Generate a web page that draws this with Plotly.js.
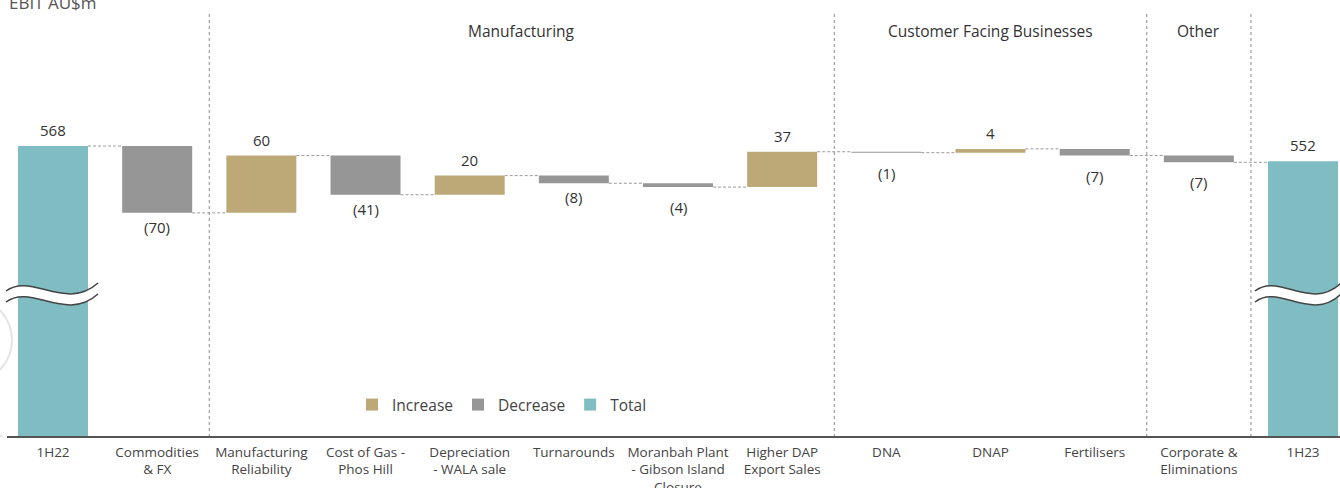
<!DOCTYPE html>
<html>
<head>
<meta charset="utf-8">
<script src="https://cdn.plot.ly/plotly-3.0.1.min.js"></script>
<style>
html,body{margin:0;padding:0;background:#fff;}
#chart{width:1340px;height:488px;}
</style>
</head>
<body>
<div id="chart"></div>
<script>
// ---- data ----
const categories = ['1H22','Commodities<br>& FX','Manufacturing<br>Reliability','Cost of Gas -<br>Phos Hill','Depreciation<br>- WALA sale','Turnarounds','Moranbah Plant<br>- Gibson Island<br>Closure','Higher DAP<br>Export Sales','DNA','DNAP','Fertilisers','Corporate &<br>Eliminations','1H23'];
const values = [568, -70, 60, -41, 20, -8, -4, 37, -1, 4, -7, -7, 552];
const measures = ['total','relative','relative','relative','relative','relative','relative','relative','relative','relative','relative','relative','total'];
const sections = ['Manufacturing','Customer Facing Businesses','Other'];
const sectionBounds = [[1.5,7.5],[7.5,10.5],[10.5,11.5]];
const dividers = [1.5, 7.5, 10.5, 11.5];
const legendNames = ['Increase','Decrease','Total'];

// ---- style ----
const COL_INC = '#bda978', COL_DEC = '#969696', COL_TOT = '#80bdc3';
const FONT = '"Open Sans", "Noto Sans", sans-serif';
const W = 1340, H = 488, B = 51, PH = H - B;
const XMIN = -0.509, XMAX = 12.355;
const YTOP = 720.9, YBOT = 263.3;
const BARW = 0.672;
const px2x = px => XMIN + px * (XMAX - XMIN) / W;
const py2y = py => YTOP - py * (YTOP - YBOT) / PH;

// ---- derive waterfall geometry from data ----
const xs = categories.map((c,i)=>i);
let cum = 0;
const inc = {x:[],y:[],base:[]}, dec = {x:[],y:[],base:[]}, tot = {x:[],y:[]};
const levels = [];
const labels = [];
values.forEach((v,i)=>{
  if (measures[i]==='total') {
    tot.x.push(i); tot.y.push(v); cum = v;
    labels.push({x:i, y:v, text:String(v), up:true, shift:8});
  } else if (v >= 0) {
    inc.x.push(i); inc.y.push(v); inc.base.push(cum); cum += v;
    labels.push({x:i, y:cum, text:String(v), up:true, shift:8});
  } else {
    dec.x.push(i); dec.y.push(v); dec.base.push(cum); cum += v;
    labels.push({x:i, y:cum, text:'(' + Math.abs(v) + ')', up:false, shift:Math.abs(v) < 8 ? 12 : 6});
  }
  levels.push(cum);
});
const conX = [], conY = [];
for (let i=0;i<values.length-1;i++){
  conX.push(i + BARW/2, i + 1 - BARW/2, null);
  conY.push(levels[i], levels[i], null);
}

const traces = [
  {type:'scatter', mode:'lines', x:conX, y:conY, line:{color:'#9a9a9a', width:1, dash:'3px,2px'}, showlegend:false, hoverinfo:'skip'},
  {type:'bar', name:legendNames[0], x:inc.x, y:inc.y, base:inc.base, marker:{color:COL_INC}, width:BARW},
  {type:'bar', name:legendNames[1], x:dec.x, y:dec.y, base:dec.base, marker:{color:COL_DEC}, width:BARW},
  {type:'bar', name:legendNames[2], x:tot.x, y:tot.y, marker:{color:COL_TOT}, width:BARW}
];

// ---- shapes ----
const shapes = [];
// watermark circles (faint)
[[-30,340,42],[-30,478,52],[-30,478,36]].forEach(c=>{
  shapes.push({type:'circle', xref:'x', yref:'y', layer:'below',
    x0:px2x(c[0]-c[2]), x1:px2x(c[0]+c[2]), y0:py2y(c[1]-c[2]), y1:py2y(c[1]+c[2]),
    line:{color:'#e4e4e4', width:2}});
});
dividers.forEach(d=>{
  shapes.push({type:'line', xref:'x', yref:'paper', x0:d, x1:d, y0:0, y1:1-13/PH, line:{color:'#8a8a8a', width:1, dash:'3px,3px'}, layer:'above'});
});
shapes.push({type:'line', xref:'paper', yref:'paper', x0:7/W, x1:1, y0:0, y1:0, line:{color:'#555', width:2}});

function wave(x0px, x1px, ypx){
  const w = x1px - x0px;
  const P = (px,py)=> px2x(px).toFixed(5)+','+py2y(py).toFixed(3);
  const top = [[x0px,ypx],[x0px+0.27*w,ypx-19],[x0px+0.65*w,ypx+21],[x1px,ypx-8]];
  const off = 11;
  const bot = top.map(p=>[p[0],p[1]+off]);
  const fill = 'M'+P(...top[0])+' C'+P(...top[1])+' '+P(...top[2])+' '+P(...top[3])+
    ' L'+P(...bot[3])+' C'+P(...bot[2])+' '+P(...bot[1])+' '+P(...bot[0])+' Z';
  const l1 = 'M'+P(...top[0])+' C'+P(...top[1])+' '+P(...top[2])+' '+P(...top[3]);
  const l2 = 'M'+P(...bot[0])+' C'+P(...bot[1])+' '+P(...bot[2])+' '+P(...bot[3]);
  return [
    {type:'path', xref:'x', yref:'y', path:fill, fillcolor:'#ffffff', line:{width:0}, layer:'above'},
    {type:'path', xref:'x', yref:'y', path:l1, line:{color:'#444', width:1.5}, layer:'above'},
    {type:'path', xref:'x', yref:'y', path:l2, line:{color:'#444', width:1.5}, layer:'above'}
  ];
}
shapes.push(...wave(6, 98, 291));
shapes.push(...wave(1255, 1341, 291));

// ---- annotations ----
const annotations = sections.map((s,i)=>({
  text:s, xref:'x', yref:'paper', x:(sectionBounds[i][0]+sectionBounds[i][1])/2, y:1-31/PH,
  showarrow:false, font:{family:FONT, size:15.5, color:'#333'}, xanchor:'center', yanchor:'middle'
}));
labels.forEach(l=>{
  annotations.push({text:l.text, xref:'x', yref:'y', x:l.x, y:l.y, showarrow:false,
    xanchor:'center', yanchor:l.up?'bottom':'top', yshift:l.up?l.shift-4:-(l.shift-4),
    font:{family:FONT, size:15, color:'#333'}});
});
annotations.push({text:'EBIT AU$m', xref:'paper', yref:'paper', x:7/W, y:1, yshift:-2, xanchor:'left', yanchor:'middle', showarrow:false, font:{family:FONT, size:17, color:'#555'}});

const layout = {
  width:W, height:H,
  margin:{l:0, r:0, t:0, b:B, pad:0},
  paper_bgcolor:'#fff', plot_bgcolor:'rgba(0,0,0,0)',
  barmode:'overlay',
  font:{family:FONT, color:'#444'},
  xaxis:{range:[XMIN, XMAX], tickmode:'array', tickvals:xs, ticktext:categories, showgrid:false, zeroline:false, showline:false, ticks:'', ticklabelstandoff:5, tickfont:{family:FONT, size:13.5, color:'#444'}, fixedrange:true},
  yaxis:{range:[YBOT, YTOP], showgrid:false, zeroline:false, showline:false, showticklabels:false, ticks:'', fixedrange:true},
  showlegend:true,
  legend:{orientation:'h', x:352/W, xanchor:'left', y:1-405/PH, yanchor:'middle', font:{family:FONT, size:15.5, color:'#444'}, bgcolor:'rgba(0,0,0,0)', traceorder:'normal'},
  shapes:shapes, annotations:annotations
};
Plotly.newPlot('chart', traces, layout, {displayModeBar:false, staticPlot:true});
</script>
</body>
</html>
